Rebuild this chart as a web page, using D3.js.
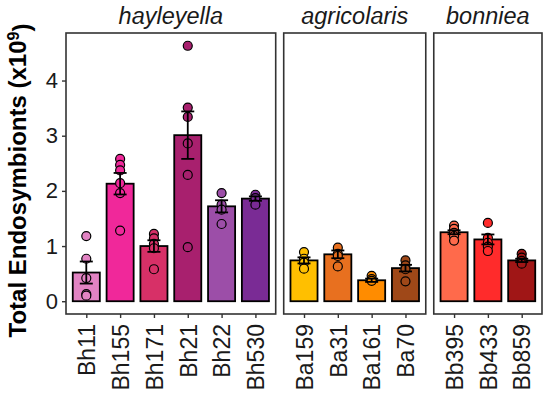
<!DOCTYPE html>
<html>
<head>
<meta charset="utf-8">
<script src="https://cdnjs.cloudflare.com/ajax/libs/d3/7.8.5/d3.min.js"></script>
<style>
  body { margin: 0; background: #fff; }
  text { font-family: "Liberation Sans", Arial, sans-serif; }
</style>
</head>
<body>
<script>
// Data
var species = ["hayleyella", "agricolaris", "bonniea"];
var strains = ["Bh11", "Bh155", "Bh171", "Bh21", "Bh22", "Bh530",
               "Ba159", "Ba31", "Ba161", "Ba70",
               "Bb395", "Bb433", "Bb859"];
var strainSpecies = ["hayleyella", "hayleyella", "hayleyella", "hayleyella", "hayleyella", "hayleyella",
                     "agricolaris", "agricolaris", "agricolaris", "agricolaris",
                     "bonniea", "bonniea", "bonniea"];
var means = [0.52, 2.13, 1.00, 3.01, 1.72, 1.86, 0.74, 0.85, 0.38, 0.60, 1.25, 1.12, 0.74];
var sems = [0.20, 0.195, 0.105, 0.43, 0.11, 0.04, 0.055, 0.07, 0.03, 0.06, 0.035, 0.09, 0.03];
var replicates = [
  [1.18, 0.77, 0.42, 0.13, 0.10],
  [2.58, 2.47, 2.37, 2.14, 1.96, 1.28],
  [1.22, 1.14, 1.04, 0.96, 0.58],
  [4.63, 3.51, 3.34, 2.86, 2.29, 0.98],
  [1.96, 1.75, 1.66, 1.40],
  [1.93, 1.87, 1.75],
  [0.89, 0.77, 0.70, 0.59],
  [0.97, 0.86, 0.82, 0.63],
  [0.46, 0.40, 0.37],
  [0.74, 0.65, 0.58, 0.36],
  [1.37, 1.31, 1.24, 1.18, 1.10],
  [1.42, 1.15, 1.06, 0.99, 0.91],
  [0.86, 0.79, 0.73, 0.68]
];
var yTicks = [0, 1, 2, 3, 4];

var colors = ["#e283c3", "#f0289a", "#d73067", "#a8206e", "#9c4ea8", "#7a2b95",
              "#ffbf00", "#e8701f", "#ff8c00", "#9f4818",
              "#ff6a4b", "#ff2b2b", "#a01616"];

// Set up svg
var svgWidth = 550;
var svgHeight = 399;
var panelLeft = 66, panelRight = 542, panelTop = 33, panelBottom = 314;
var gap = 8;

var svg = d3.select("body")
  .append("svg")
  .attr("width", svgWidth)
  .attr("height", svgHeight);

var rows = strains.map(function(s, i) {
  return { strain: s, species: strainSpecies[i], mean: means[i], se: sems[i],
           pts: replicates[i], color: colors[i] };
});

// y scale with ggplot-like 5% expansion
var yMax = d3.max(rows, d => Math.max(d.mean + d.se, d3.max(d.pts)));
var yPad = yMax * 0.05;
var yScale = d3.scaleLinear()
  .domain([-yPad, yMax + yPad])
  .range([panelBottom, panelTop]);

// panel widths proportional to number of strains
var counts = species.map(sp => rows.filter(d => d.species === sp).length);
var step = (panelRight - panelLeft - gap * (species.length - 1)) / d3.sum(counts, n => n + 0.2);

var x0 = panelLeft;
species.forEach(function(sp, k) {
  var data = rows.filter(d => d.species === sp);
  var w = step * (counts[k] + 0.2);
  var xScale = d3.scalePoint()
    .domain(data.map(d => d.strain))
    .range([x0, x0 + w])
    .padding(0.6);
  var barW = step * 0.8;

  var g = svg.append("g");

  // bars
  g.selectAll("rect.bar")
    .data(data)
    .enter()
    .append("rect")
    .attr("class", "bar")
    .attr("x", d => xScale(d.strain) - barW / 2)
    .attr("width", barW)
    .attr("y", d => yScale(d.mean))
    .attr("height", d => yScale(0) - yScale(d.mean))
    .attr("fill", d => d.color)
    .attr("stroke", "#000")
    .attr("stroke-width", 1.8);

  // replicate points
  data.forEach(function(d) {
    g.selectAll(null)
      .data(d.pts)
      .enter()
      .append("circle")
      .attr("cx", xScale(d.strain))
      .attr("cy", v => yScale(v))
      .attr("r", 4.5)
      .attr("fill", d.color)
      .attr("stroke", "#000")
      .attr("stroke-width", 1.2);
  });

  // error bars (mean +/- se)
  var eb = g.selectAll("g.err")
    .data(data)
    .enter()
    .append("g")
    .attr("stroke", "#000")
    .attr("stroke-width", 1.8);
  eb.append("line")
    .attr("x1", d => xScale(d.strain)).attr("x2", d => xScale(d.strain))
    .attr("y1", d => yScale(d.mean - d.se)).attr("y2", d => yScale(d.mean + d.se));
  eb.append("line")
    .attr("x1", d => xScale(d.strain) - 6.5).attr("x2", d => xScale(d.strain) + 6.5)
    .attr("y1", d => yScale(d.mean + d.se)).attr("y2", d => yScale(d.mean + d.se));
  eb.append("line")
    .attr("x1", d => xScale(d.strain) - 6.5).attr("x2", d => xScale(d.strain) + 6.5)
    .attr("y1", d => yScale(d.mean - d.se)).attr("y2", d => yScale(d.mean - d.se));

  // panel border
  g.append("rect")
    .attr("x", x0)
    .attr("y", panelTop)
    .attr("width", w)
    .attr("height", panelBottom - panelTop)
    .attr("fill", "none")
    .attr("stroke", "#333")
    .attr("stroke-width", 1.6);

  // x axis
  var xAxis = g.append("g")
    .attr("transform", `translate(0, ${panelBottom})`)
    .call(d3.axisBottom(xScale).tickSize(4).tickSizeOuter(0));
  xAxis.select(".domain").remove();
  xAxis.selectAll(".tick line").attr("stroke", "#333").attr("stroke-width", 1.4);
  xAxis.selectAll(".tick text")
    .attr("transform", "rotate(-90)")
    .attr("x", -10)
    .attr("y", 0)
    .attr("dy", "0.36em")
    .attr("text-anchor", "end")
    .attr("fill", "#1a1a1a")
    .style("font-size", "23px")
    .style("font-family", "'Liberation Sans', Arial, sans-serif");

  // strip label
  svg.append("text")
    .attr("x", x0 + w / 2)
    .attr("y", 24)
    .attr("text-anchor", "middle")
    .style("font-size", "23.5px")
    .style("font-style", "italic")
    .attr("fill", "#1a1a1a")
    .text(sp);

  x0 += w + gap;
});

// y axis on the first panel
var yAxis = svg.append("g")
  .attr("transform", `translate(${panelLeft}, 0)`)
  .call(d3.axisLeft(yScale).tickValues(yTicks).tickFormat(d3.format("d")).tickSize(4).tickSizeOuter(0));
yAxis.select(".domain").remove();
yAxis.selectAll(".tick line").attr("stroke", "#333").attr("stroke-width", 1.4);
yAxis.selectAll(".tick text")
  .attr("x", -8)
  .attr("fill", "#1a1a1a")
  .style("font-size", "22px")
  .style("font-family", "'Liberation Sans', Arial, sans-serif");

// y axis title
var yTitle = svg.append("text")
  .attr("transform", `translate(26, ${(panelTop + panelBottom) / 2 + 7}) rotate(-90)`)
  .attr("text-anchor", "middle")
  .style("font-size", "24px")
  .style("font-weight", "bold")
  .attr("fill", "#000");
yTitle.append("tspan").text("Total Endosymbionts (x10");
yTitle.append("tspan").attr("dy", "-0.45em").style("font-size", "16px").text("9");
yTitle.append("tspan").attr("dy", "0.45em").text(")");
</script>
</body>
</html>
